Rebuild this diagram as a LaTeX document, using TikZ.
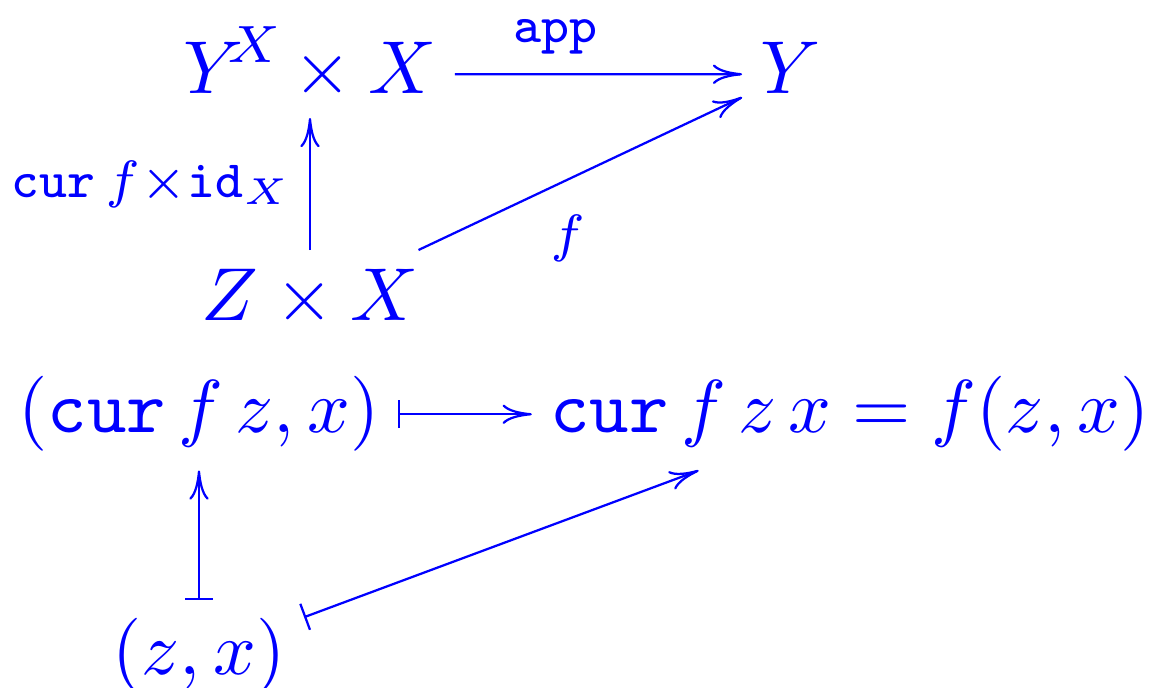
\documentclass[tikz,border=0pt]{standalone}
\usetikzlibrary{arrows.meta,calc}
\definecolor{dblue}{RGB}{0,0,255}
\begin{document}
\begin{tikzpicture}[x=0.133333pt,y=-0.133333pt,
  obj/.style={anchor=base,inner sep=2.3pt,text=dblue},
  arr/.style={draw=dblue,line width=0.3pt,-{Computer Modern Rightarrow[length=3.9pt,width=2.6pt]}},
  maparr/.style={draw=dblue,line width=0.3pt,{Bar[width=3.7pt]}-{Computer Modern Rightarrow[length=3.9pt,width=2.6pt]}},
  lab/.style={text=dblue,inner sep=2.3pt}]
\useasboundingbox (0,0) rectangle (1149,688);
\node[obj] (tl) at (310,93) {$\displaystyle Y^{\kern-2.2pt X}\mkern-2mu\times X$};
\node[obj,text depth=1.83pt] (y) at (791,93) {$Y$};
\node[obj,text depth=1.83pt] (zx) at (310,320) {$Z\times X$};
\node[obj] (cz) at (199,433) {$(\mathtt{cur}\,f\,z,x)$};
\node[obj] (rt) at (850,433) {$\mathtt{cur}\,f\,z\,x=f(z,x)$};
\node[obj] (p) at (199,675) {$(z,x)$};
\draw[arr] ([yshift=2.5pt]tl.base east) -- (y.west)
  node[lab,pos=0.35,above,inner sep=2.5pt] {$\scriptstyle\mathtt{app}$};
\draw[arr] (zx.north) -- (zx.north |- tl.south)
  node[lab,midway,left] {$\scriptstyle\mathtt{cur}\,f\times\mathtt{id}_X$};
\draw[arr] (zx) -- (y) node[lab,pos=0.35,anchor=north west] {$\scriptstyle f$};
\draw[maparr] (cz) -- (rt);
\draw[maparr] (p) -- (cz);
\draw[maparr] (p) -- (rt);
\end{tikzpicture}
\end{document}
